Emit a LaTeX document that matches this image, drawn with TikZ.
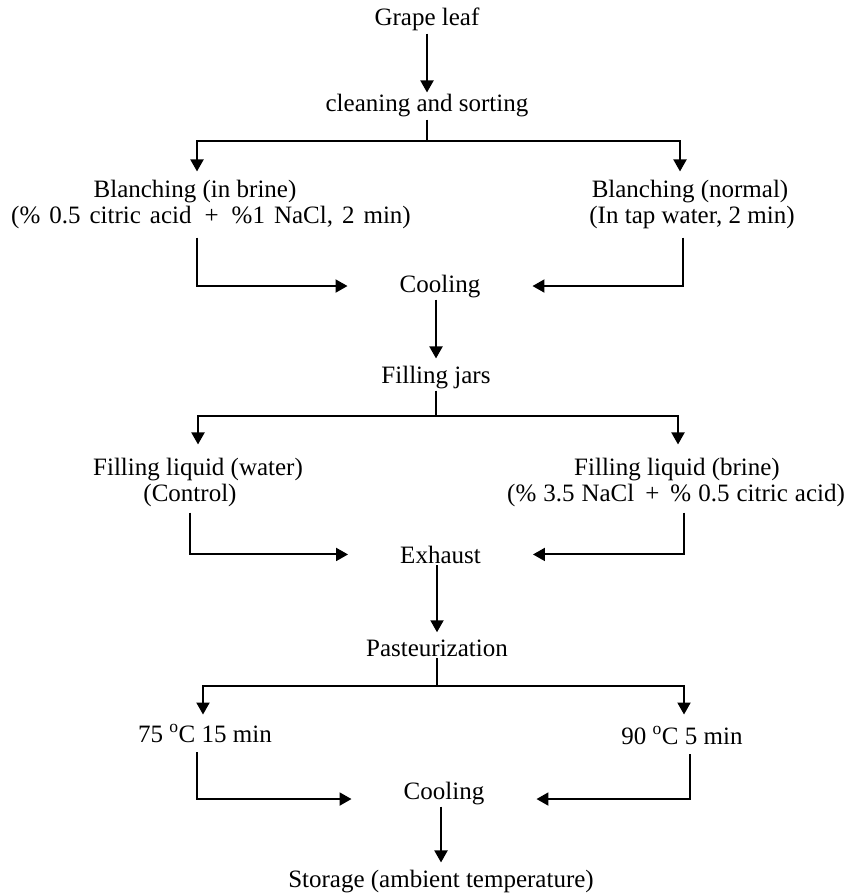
\documentclass[tikz,border=0pt]{standalone}
\usepackage{fontspec}
\setmainfont{Liberation Serif}
\usetikzlibrary{arrows.meta}
\begin{document}
\begin{tikzpicture}[x=1pt,y=-1pt,
  lbl/.style={anchor=base,inner xsep=0pt,inner ysep=2pt,font=\fontsize{25}{30}\selectfont},
  mid/.style={lbl,inner xsep=52pt},
  line/.style={line width=2pt},
  arr/.style={line width=2pt,-{Triangle[width=13pt,length=12pt]}}]
\useasboundingbox (0,0) rectangle (854,893);
% nodes
\node[lbl] (grape) at (427,26) {Grape leaf};
\node[lbl] (clean) at (427,112) {cleaning and sorting};
\node[lbl] (bb1) at (195,198) {Blanching (in brine)};
\node[lbl] (bb2) at (211,224) {\spaceskip=9pt\relax(\% 0.5 citric acid\hspace{13pt}+\hspace{13pt}\%1 NaCl, 2 min)};
\node[lbl] (bn1) at (690,198) {Blanching (normal)};
\node[lbl] (bn2) at (692,224) {(In tap water, 2 min)};
\node[mid] (cool1) at (440,292) {Cooling};
\node[lbl] (jars) at (436,383) {Filling jars};
\node[lbl] (fw1) at (198,475) {Filling liquid (water)};
\node[lbl] (fw2) at (190,501) {(Control)};
\node[lbl] (fb1) at (677,475) {Filling liquid (brine)};
\node[lbl] (fb2) at (676,501) {\spaceskip=7pt\relax(\% 3.5 NaCl\hspace{11pt}+\hspace{11pt}\% 0.5 citric acid)};
\node[mid] (exh) at (440.5,563) {Exhaust};
\node[lbl] (past) at (437,656) {Pasteurization};
\node[lbl] (t75) at (205,742) {75 \textsuperscript{o}C 15 min};
\node[lbl] (t90) at (682,744) {90 \textsuperscript{o}C 5 min};
\node[mid] (cool2) at (444,799) {Cooling};
\node[lbl] (store) at (441,887) {Storage (ambient temperature)};
% branch coordinates
\coordinate (xL1) at (197,141);
\coordinate (xR1) at (680,141);
\coordinate (xL2) at (198,416);
\coordinate (xR2) at (678,416);
\coordinate (xL3) at (203,686);
\coordinate (xR3) at (684,686);
% connectors
\draw[arr] (grape.south) -- (clean.north);
\draw[line] (clean.south) -- (clean.south |- xL1);
\draw[arr] (clean.south |- xL1) -| ([yshift=7pt]bb1.north -| xL1);
\draw[arr] (clean.south |- xR1) -| ([yshift=7pt]bn1.north -| xR1);
\draw[arr] ([yshift=-6pt]bb2.south -| xL1) |- (cool1.west);
\draw[arr] ([xshift=-9pt,yshift=-6pt]bn2.south) |- (cool1.east);
\draw[arr] (jars.north |- cool1.south) -- ([yshift=5pt]jars.north);
\draw[line] (jars.south) -- (jars.south |- xL2);
\draw[arr] (jars.south |- xL2) -| ([yshift=11pt]fw1.north -| xL2);
\draw[arr] (jars.south |- xR2) -| ([yshift=11pt]fb1.north -| xR2);
\draw[arr] ([yshift=-4pt]fw2.south) |- (exh.west);
\draw[arr] ([xshift=8pt,yshift=-4pt]fb2.south) |- (exh.east);
\draw[arr] (past.north |- exh.south) -- ([yshift=5pt]past.north);
\draw[line] (past.south) -- (past.south |- xL3);
\draw[arr] (past.south |- xL3) -| ([yshift=8pt]t75.north -| xL3);
\draw[arr] (past.south |- xR3) -| ([yshift=10pt]t90.north -| xR3);
\draw[arr] ([xshift=-8pt,yshift=-8pt]t75.south) |- ([yshift=-6pt]cool2.west);
\draw[arr] ([xshift=8pt,yshift=-8pt]t90.south) |- ([yshift=-6pt]cool2.east);
\draw[arr] (store.north |- cool2.south) -- ([yshift=5pt]store.north);
\end{tikzpicture}
\end{document}
